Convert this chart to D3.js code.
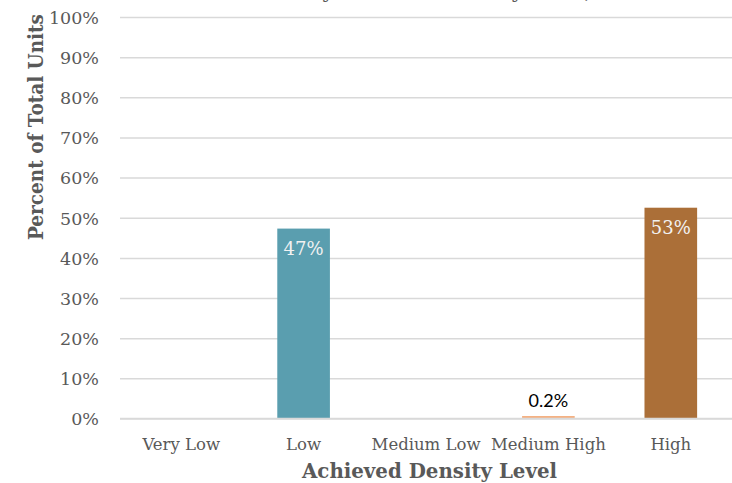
<!DOCTYPE html>
<html>
<head>
<meta charset="utf-8">
<script src="https://cdn.jsdelivr.net/npm/d3@7/dist/d3.min.js"></script>
<style>
  html, body { margin: 0; padding: 0; background: #ffffff; }
  svg { display: block; }
</style>
</head>
<body>
<svg id="chart" width="732" height="483"></svg>
<script>
// ---- data ----
const categories = ["Very Low", "Low", "Medium Low", "Medium High", "High"];
const values = [0, 47.3, 0, 0.2, 52.5];
const valueLabels = ["", "47%", "", "0.2%", "53%"];
const barColors = ["#5a9eaf", "#5a9eaf", "#f4b183", "#f4b183", "#ab6f38"];
const yTicks = [0, 10, 20, 30, 40, 50, 60, 70, 80, 90, 100];
const chartTitle = "Percent of Units by Achieved Density Level, 2020";
const xTitle = "Achieved Density Level";
const yTitle = "Percent of Total Units";

// ---- layout ----
const plot = { left: 120, right: 732, top: 17, bottom: 418.5 };
const serif = "'DejaVu Serif', serif";
const grey = "#595959";

const svg = d3.select("#chart");

const x = d3.scaleBand()
  .domain(categories)
  .range([plot.left, plot.right])
  .paddingInner(0.57)
  .paddingOuter(0.285);

const y = d3.scaleLinear()
  .domain([0, 100])
  .range([plot.bottom, plot.top]);

// title (clipped at top in reference)
svg.append("text")
  .attr("x", 390)
  .attr("y", -2)
  .attr("text-anchor", "middle")
  .attr("font-family", serif)
  .attr("font-weight", "bold")
  .attr("font-size", 19)
  .attr("fill", grey)
  .text(chartTitle);

// gridlines
const grid = svg.append("g")
  .attr("transform", `translate(${plot.left},0)`)
  .call(d3.axisLeft(y).tickValues(yTicks).tickSize(-(plot.right - plot.left)).tickFormat(""));
grid.select(".domain").remove();
grid.selectAll(".tick line").attr("stroke", "#d9d9d9").attr("stroke-width", 1.5);

// y axis labels
const yAxis = svg.append("g")
  .attr("transform", `translate(${plot.left},0)`)
  .call(d3.axisLeft(y).tickValues(yTicks).tickSize(0).tickPadding(21).tickFormat(d => d + "%"));
yAxis.select(".domain").remove();
yAxis.selectAll("text")
  .attr("font-family", serif)
  .attr("font-size", 17.5)
  .attr("fill", grey)
  .attr("dy", "0.36em");

// bars (tiny values get a minimum visible thickness, as in the reference)
const minH = 2.5;
svg.append("g").selectAll("rect")
  .data(categories.map((c, i) => ({ c, v: values[i], col: barColors[i] })).filter(d => d.v > 0))
  .join("rect")
  .attr("x", d => x(d.c))
  .attr("width", x.bandwidth())
  .attr("y", d => Math.min(y(d.v), y(0) - minH))
  .attr("height", d => Math.max(y(0) - y(d.v), minH))
  .attr("fill", d => d.col);

// baseline
svg.append("line")
  .attr("x1", plot.left).attr("x2", plot.right)
  .attr("y1", y(0)).attr("y2", y(0))
  .attr("stroke", "#d9d9d9").attr("stroke-width", 1.5);

// data labels
const labData = categories.map((c, i) => ({ c, v: values[i], lab: valueLabels[i] })).filter(d => d.lab);
svg.append("g").selectAll("text")
  .data(labData)
  .join("text")
  .attr("x", d => x(d.c) + x.bandwidth() / 2)
  .attr("y", d => d.v > 5 ? y(d.v) + 26.5 : y(d.v) - 11)
  .attr("text-anchor", "middle")
  .attr("font-family", d => d.v > 5 ? serif : "Lato, 'Open Sans', sans-serif")
  .attr("font-size", d => d.v > 5 ? 18 : 18)
  .attr("fill", d => d.v > 5 ? "#f2f2f2" : "#000000")
  .text(d => d.lab);

// x axis labels
const xAxis = svg.append("g")
  .attr("transform", `translate(0,${plot.bottom})`)
  .call(d3.axisBottom(x).tickSize(0));
xAxis.select(".domain").remove();
xAxis.selectAll("text")
  .attr("font-family", serif)
  .attr("font-size", 16.5)
  .attr("fill", grey)
  .attr("y", 31.5)
  .attr("dy", 0);

// axis titles
svg.append("text")
  .attr("x", 429.5)
  .attr("y", 478)
  .attr("text-anchor", "middle")
  .attr("font-family", serif)
  .attr("font-weight", "bold")
  .attr("font-size", 20)
  .attr("fill", grey)
  .attr("textLength", 255)
  .attr("lengthAdjust", "spacingAndGlyphs")
  .text(xTitle);

svg.append("text")
  .attr("transform", "translate(43,127) rotate(-90)")
  .attr("text-anchor", "middle")
  .attr("font-family", serif)
  .attr("font-weight", "bold")
  .attr("font-size", 20)
  .attr("fill", grey)
  .attr("textLength", 226)
  .attr("lengthAdjust", "spacingAndGlyphs")
  .text(yTitle);
</script>
</body>
</html>
